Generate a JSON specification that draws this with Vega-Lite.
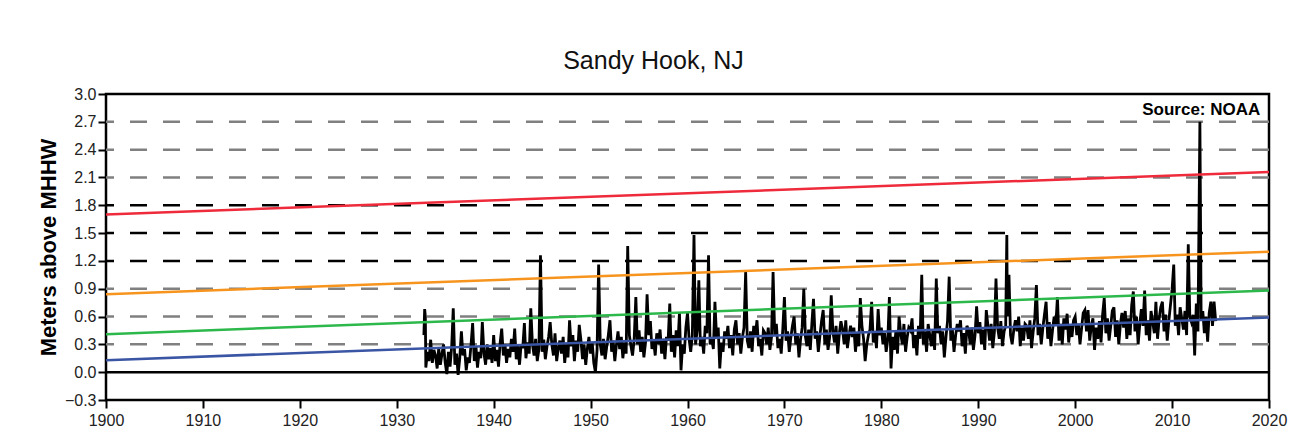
{
"$schema":"https://vega.github.io/schema/vega-lite/v6.json",
"width":1163,"height":306,
"autosize":{"type":"none"},
"padding":{"left":106,"top":94,"right":30,"bottom":39},
"background":"#ffffff",
"title":{"text":"Sandy Hook, NJ","font":"Liberation Sans","fontSize":25,"fontWeight":"normal","color":"#111111","dx":-34,"offset":12},
"config":{"view":{"stroke":"#000000","strokeWidth":2.5},"font":"Liberation Sans",
 "axisX":{"labelFont":"Liberation Sans","labelFontSize":16,"labelColor":"#222222","labelPadding":4,"tickSize":8,"tickWidth":2,"tickColor":"#000000","domain":false,"grid":false,"labelFlush":false,"labelOverlap":false,"labelBound":false},
 "axisY":{"labelFont":"Liberation Sans","labelFontSize":16,"labelColor":"#222222","labelPadding":2,"tickSize":8,"tickWidth":2,"tickColor":"#000000","domain":false,"grid":false,"labelFlush":false,"labelOverlap":false,"labelBound":false,"titleFont":"Liberation Sans","titleFontSize":22,"titleFontWeight":"bold","titleColor":"#000000","titlePadding":4}},
"datasets":{
"grid":[{"y":0.3,"c":"#808080"},{"y":0.6,"c":"#808080"},{"y":0.9,"c":"#808080"},{"y":1.2,"c":"#000000"},{"y":1.5,"c":"#000000"},{"y":1.8,"c":"#000000"},{"y":2.1,"c":"#808080"},{"y":2.4,"c":"#808080"},{"y":2.7,"c":"#808080"}],
"trend":[{"t":1900,"v":1.70,"s":"r"},{"t":2020,"v":2.16,"s":"r"},{"t":1900,"v":0.84,"s":"o"},{"t":2020,"v":1.30,"s":"o"},{"t":1900,"v":0.41,"s":"g"},{"t":2020,"v":0.88,"s":"g"},{"t":1900,"v":0.13,"s":"b"},{"t":2020,"v":0.59,"s":"b"}],
"note":[{"t":2019.1,"v":2.83,"label":"Source: NOAA"}],
"zero":[{"t":1900,"v":0},{"t":2020,"v":0}],
"wl":[
{"t":1932.8,"v":0.4},{"t":1932.88,"v":0.68},{"t":1932.95,"v":0.6},
{"t":1933,"v":0.05},{"t":1933.17,"v":0.22},{"t":1933.33,"v":0.12},{"t":1933.5,"v":0.35},{"t":1933.67,"v":0.10},{"t":1933.83,"v":0.24},
{"t":1934,"v":0.18},{"t":1934.17,"v":0.04},{"t":1934.33,"v":0.26},{"t":1934.5,"v":0.08},{"t":1934.67,"v":0.20},{"t":1934.83,"v":0.30},
{"t":1935,"v":0.10},{"t":1935.17,"v":-0.02},{"t":1935.33,"v":0.22},{"t":1935.5,"v":0.06},{"t":1935.67,"v":0.28},{"t":1935.83,"v":0.69},
{"t":1936,"v":0.08},{"t":1936.17,"v":0.20},{"t":1936.33,"v":-0.03},{"t":1936.5,"v":0.15},{"t":1936.67,"v":0.44},{"t":1936.83,"v":0.18},
{"t":1937,"v":0.25},{"t":1937.17,"v":0.02},{"t":1937.33,"v":0.16},{"t":1937.5,"v":0.10},{"t":1937.67,"v":0.30},{"t":1937.83,"v":0.53},
{"t":1938,"v":0.12},{"t":1938.17,"v":0.28},{"t":1938.33,"v":0.05},{"t":1938.5,"v":0.22},{"t":1938.67,"v":0.15},{"t":1938.83,"v":0.54},
{"t":1939,"v":0.20},{"t":1939.17,"v":0.08},{"t":1939.33,"v":0.30},{"t":1939.5,"v":0.14},{"t":1939.67,"v":0.26},{"t":1939.83,"v":0.10},
{"t":1940,"v":0.40},{"t":1940.17,"v":0.12},{"t":1940.33,"v":0.24},{"t":1940.5,"v":0.06},{"t":1940.67,"v":0.32},{"t":1940.83,"v":0.47},
{"t":1941,"v":0.18},{"t":1941.17,"v":0.30},{"t":1941.33,"v":0.10},{"t":1941.5,"v":0.25},{"t":1941.67,"v":0.16},{"t":1941.83,"v":0.36},
{"t":1942,"v":0.22},{"t":1942.17,"v":0.47},{"t":1942.33,"v":0.14},{"t":1942.5,"v":0.28},{"t":1942.67,"v":0.08},{"t":1942.83,"v":0.30},
{"t":1943,"v":0.26},{"t":1943.17,"v":0.53},{"t":1943.33,"v":0.15},{"t":1943.5,"v":0.32},{"t":1943.67,"v":0.20},{"t":1943.83,"v":0.69},
{"t":1944,"v":0.30},{"t":1944.17,"v":0.18},{"t":1944.33,"v":0.36},{"t":1944.5,"v":0.12},{"t":1944.67,"v":0.25},{"t":1944.83,"v":1.26},
{"t":1945,"v":0.22},{"t":1945.17,"v":0.35},{"t":1945.33,"v":0.14},{"t":1945.5,"v":0.28},{"t":1945.67,"v":0.38},{"t":1945.83,"v":0.54},
{"t":1946,"v":0.30},{"t":1946.17,"v":0.18},{"t":1946.33,"v":0.42},{"t":1946.5,"v":0.12},{"t":1946.67,"v":0.26},{"t":1946.83,"v":0.34},
{"t":1947,"v":0.20},{"t":1947.17,"v":0.38},{"t":1947.33,"v":0.10},{"t":1947.5,"v":0.30},{"t":1947.67,"v":0.16},{"t":1947.83,"v":0.56},
{"t":1948,"v":0.28},{"t":1948.17,"v":0.40},{"t":1948.33,"v":0.12},{"t":1948.5,"v":0.34},{"t":1948.67,"v":0.22},{"t":1948.83,"v":0.51},
{"t":1949,"v":0.35},{"t":1949.17,"v":0.14},{"t":1949.33,"v":0.30},{"t":1949.5,"v":0.08},{"t":1949.67,"v":0.26},{"t":1949.83,"v":0.38},
{"t":1950,"v":0.20},{"t":1950.17,"v":0.32},{"t":1950.33,"v":0.10},{"t":1950.5,"v":0.00},{"t":1950.67,"v":0.24},{"t":1950.83,"v":1.16},
{"t":1951,"v":0.30},{"t":1951.17,"v":0.18},{"t":1951.33,"v":0.36},{"t":1951.5,"v":0.14},{"t":1951.67,"v":0.28},{"t":1951.83,"v":0.40},
{"t":1952,"v":0.56},{"t":1952.17,"v":0.22},{"t":1952.33,"v":0.34},{"t":1952.5,"v":0.12},{"t":1952.67,"v":0.30},{"t":1952.83,"v":0.44},
{"t":1953,"v":0.25},{"t":1953.17,"v":0.38},{"t":1953.33,"v":0.15},{"t":1953.5,"v":0.32},{"t":1953.67,"v":0.20},{"t":1953.83,"v":1.36},
{"t":1954,"v":0.40},{"t":1954.17,"v":0.28},{"t":1954.33,"v":0.18},{"t":1954.5,"v":0.36},{"t":1954.67,"v":0.81},{"t":1954.83,"v":0.30},
{"t":1955,"v":0.45},{"t":1955.17,"v":0.22},{"t":1955.33,"v":0.38},{"t":1955.5,"v":0.16},{"t":1955.67,"v":0.32},{"t":1955.83,"v":0.84},
{"t":1956,"v":0.40},{"t":1956.17,"v":0.55},{"t":1956.33,"v":0.25},{"t":1956.5,"v":0.34},{"t":1956.67,"v":0.18},{"t":1956.83,"v":0.42},
{"t":1957,"v":0.30},{"t":1957.17,"v":0.46},{"t":1957.33,"v":0.20},{"t":1957.5,"v":0.36},{"t":1957.67,"v":0.14},{"t":1957.83,"v":0.38},
{"t":1958,"v":0.34},{"t":1958.17,"v":0.74},{"t":1958.33,"v":0.22},{"t":1958.5,"v":0.40},{"t":1958.67,"v":0.16},{"t":1958.83,"v":0.45},
{"t":1959,"v":0.28},{"t":1959.17,"v":0.64},{"t":1959.33,"v":0.02},{"t":1959.5,"v":0.30},{"t":1959.67,"v":0.20},{"t":1959.83,"v":0.48},
{"t":1960,"v":0.64},{"t":1960.17,"v":0.35},{"t":1960.33,"v":0.22},{"t":1960.5,"v":0.40},{"t":1960.67,"v":1.48},{"t":1960.83,"v":0.30},
{"t":1961,"v":0.45},{"t":1961.17,"v":0.99},{"t":1961.33,"v":0.28},{"t":1961.5,"v":0.38},{"t":1961.67,"v":0.20},{"t":1961.83,"v":0.50},
{"t":1962,"v":0.42},{"t":1962.17,"v":1.26},{"t":1962.33,"v":0.30},{"t":1962.5,"v":0.36},{"t":1962.67,"v":0.25},{"t":1962.83,"v":0.76},
{"t":1963,"v":0.38},{"t":1963.17,"v":0.48},{"t":1963.33,"v":0.04},{"t":1963.5,"v":0.32},{"t":1963.67,"v":0.22},{"t":1963.83,"v":0.44},
{"t":1964,"v":0.36},{"t":1964.17,"v":0.50},{"t":1964.33,"v":0.26},{"t":1964.5,"v":0.40},{"t":1964.67,"v":0.18},{"t":1964.83,"v":0.46},
{"t":1965,"v":0.56},{"t":1965.17,"v":0.30},{"t":1965.33,"v":0.42},{"t":1965.5,"v":0.20},{"t":1965.67,"v":0.38},{"t":1965.83,"v":0.48},
{"t":1966,"v":1.08},{"t":1966.17,"v":0.34},{"t":1966.33,"v":0.26},{"t":1966.5,"v":0.44},{"t":1966.67,"v":0.22},{"t":1966.83,"v":0.50},
{"t":1967,"v":0.40},{"t":1967.17,"v":0.56},{"t":1967.33,"v":0.28},{"t":1967.5,"v":0.36},{"t":1967.67,"v":0.18},{"t":1967.83,"v":0.45},
{"t":1968,"v":0.42},{"t":1968.17,"v":0.30},{"t":1968.33,"v":0.48},{"t":1968.5,"v":0.24},{"t":1968.67,"v":0.38},{"t":1968.83,"v":1.08},
{"t":1969,"v":0.40},{"t":1969.17,"v":0.52},{"t":1969.33,"v":0.26},{"t":1969.5,"v":0.36},{"t":1969.67,"v":0.20},{"t":1969.83,"v":0.46},
{"t":1970,"v":0.81},{"t":1970.17,"v":0.34},{"t":1970.33,"v":0.44},{"t":1970.5,"v":0.22},{"t":1970.67,"v":0.38},{"t":1970.83,"v":0.50},
{"t":1971,"v":0.60},{"t":1971.17,"v":0.30},{"t":1971.33,"v":0.42},{"t":1971.5,"v":0.16},{"t":1971.67,"v":0.36},{"t":1971.83,"v":0.48},
{"t":1972,"v":0.90},{"t":1972.17,"v":0.38},{"t":1972.33,"v":0.28},{"t":1972.5,"v":0.46},{"t":1972.67,"v":0.24},{"t":1972.83,"v":0.52},
{"t":1973,"v":0.79},{"t":1973.17,"v":0.36},{"t":1973.33,"v":0.44},{"t":1973.5,"v":0.22},{"t":1973.67,"v":0.40},{"t":1973.83,"v":0.55},
{"t":1974,"v":0.67},{"t":1974.17,"v":0.30},{"t":1974.33,"v":0.46},{"t":1974.5,"v":0.24},{"t":1974.67,"v":0.38},{"t":1974.83,"v":0.83},
{"t":1975,"v":0.44},{"t":1975.17,"v":0.32},{"t":1975.33,"v":0.50},{"t":1975.5,"v":0.20},{"t":1975.67,"v":0.42},{"t":1975.83,"v":0.55},
{"t":1976,"v":0.46},{"t":1976.17,"v":0.30},{"t":1976.33,"v":0.56},{"t":1976.5,"v":0.26},{"t":1976.67,"v":0.40},{"t":1976.83,"v":0.50},
{"t":1977,"v":0.38},{"t":1977.17,"v":0.48},{"t":1977.33,"v":0.22},{"t":1977.5,"v":0.42},{"t":1977.67,"v":0.28},{"t":1977.83,"v":0.80},
{"t":1978,"v":0.50},{"t":1978.17,"v":0.36},{"t":1978.33,"v":0.12},{"t":1978.5,"v":0.30},{"t":1978.67,"v":0.40},{"t":1978.83,"v":0.46},
{"t":1979,"v":0.76},{"t":1979.17,"v":0.32},{"t":1979.33,"v":0.44},{"t":1979.5,"v":0.26},{"t":1979.67,"v":0.68},{"t":1979.83,"v":0.40},
{"t":1980,"v":0.48},{"t":1980.17,"v":0.30},{"t":1980.33,"v":0.42},{"t":1980.5,"v":0.22},{"t":1980.67,"v":0.36},{"t":1980.83,"v":0.81},
{"t":1981,"v":0.04},{"t":1981.17,"v":0.38},{"t":1981.33,"v":0.24},{"t":1981.5,"v":0.44},{"t":1981.67,"v":0.20},{"t":1981.83,"v":0.60},
{"t":1982,"v":0.42},{"t":1982.17,"v":0.30},{"t":1982.33,"v":0.52},{"t":1982.5,"v":0.22},{"t":1982.67,"v":0.38},{"t":1982.83,"v":0.48},
{"t":1983,"v":0.45},{"t":1983.17,"v":0.58},{"t":1983.33,"v":0.26},{"t":1983.5,"v":0.40},{"t":1983.67,"v":0.18},{"t":1983.83,"v":0.50},
{"t":1984,"v":0.36},{"t":1984.17,"v":1.05},{"t":1984.33,"v":0.30},{"t":1984.5,"v":0.44},{"t":1984.67,"v":0.22},{"t":1984.83,"v":0.52},
{"t":1985,"v":0.40},{"t":1985.17,"v":0.28},{"t":1985.33,"v":0.46},{"t":1985.5,"v":0.24},{"t":1985.67,"v":1.01},{"t":1985.83,"v":0.42},
{"t":1986,"v":0.50},{"t":1986.17,"v":0.30},{"t":1986.33,"v":0.44},{"t":1986.5,"v":0.16},{"t":1986.67,"v":0.38},{"t":1986.83,"v":0.55},
{"t":1987,"v":1.03},{"t":1987.17,"v":0.34},{"t":1987.33,"v":0.46},{"t":1987.5,"v":0.22},{"t":1987.67,"v":0.40},{"t":1987.83,"v":0.52},
{"t":1988,"v":0.44},{"t":1988.17,"v":0.56},{"t":1988.33,"v":0.28},{"t":1988.5,"v":0.42},{"t":1988.67,"v":0.20},{"t":1988.83,"v":0.50},
{"t":1989,"v":0.46},{"t":1989.17,"v":0.30},{"t":1989.33,"v":0.48},{"t":1989.5,"v":0.24},{"t":1989.67,"v":0.40},{"t":1989.83,"v":0.71},
{"t":1990,"v":0.42},{"t":1990.17,"v":0.54},{"t":1990.33,"v":0.30},{"t":1990.5,"v":0.46},{"t":1990.67,"v":0.24},{"t":1990.83,"v":0.67},
{"t":1991,"v":0.50},{"t":1991.17,"v":0.34},{"t":1991.33,"v":0.52},{"t":1991.5,"v":0.26},{"t":1991.67,"v":0.44},{"t":1991.83,"v":1.01},
{"t":1992,"v":0.48},{"t":1992.17,"v":0.36},{"t":1992.33,"v":0.55},{"t":1992.5,"v":0.28},{"t":1992.67,"v":0.44},{"t":1992.83,"v":0.50},{"t":1992.95,"v":1.48},
{"t":1993,"v":0.60},{"t":1993.17,"v":1.05},{"t":1993.33,"v":0.40},{"t":1993.5,"v":0.30},{"t":1993.67,"v":0.46},{"t":1993.83,"v":0.56},
{"t":1994,"v":0.44},{"t":1994.17,"v":0.60},{"t":1994.33,"v":0.28},{"t":1994.5,"v":0.48},{"t":1994.67,"v":0.34},{"t":1994.83,"v":0.52},
{"t":1995,"v":0.50},{"t":1995.17,"v":0.36},{"t":1995.33,"v":0.56},{"t":1995.5,"v":0.26},{"t":1995.67,"v":0.44},{"t":1995.83,"v":0.58},
{"t":1996,"v":0.94},{"t":1996.17,"v":0.40},{"t":1996.33,"v":0.52},{"t":1996.5,"v":0.30},{"t":1996.67,"v":0.48},{"t":1996.83,"v":0.62},
{"t":1997,"v":0.76},{"t":1997.17,"v":0.36},{"t":1997.33,"v":0.54},{"t":1997.5,"v":0.28},{"t":1997.67,"v":0.46},{"t":1997.83,"v":0.60},
{"t":1998,"v":0.50},{"t":1998.17,"v":0.81},{"t":1998.33,"v":0.34},{"t":1998.5,"v":0.52},{"t":1998.67,"v":0.30},{"t":1998.83,"v":0.58},
{"t":1999,"v":0.46},{"t":1999.17,"v":0.63},{"t":1999.33,"v":0.32},{"t":1999.5,"v":0.50},{"t":1999.67,"v":0.38},{"t":1999.83,"v":0.56},
{"t":2000,"v":0.60},{"t":2000.17,"v":0.40},{"t":2000.33,"v":0.52},{"t":2000.5,"v":0.30},{"t":2000.67,"v":0.48},{"t":2000.83,"v":0.64},
{"t":2001,"v":0.67},{"t":2001.17,"v":0.44},{"t":2001.33,"v":0.67},{"t":2001.5,"v":0.34},{"t":2001.67,"v":0.50},{"t":2001.83,"v":0.58},
{"t":2002,"v":0.24},{"t":2002.17,"v":0.48},{"t":2002.33,"v":0.36},{"t":2002.5,"v":0.55},{"t":2002.67,"v":0.32},{"t":2002.83,"v":0.62},
{"t":2003,"v":0.80},{"t":2003.17,"v":0.42},{"t":2003.33,"v":0.58},{"t":2003.5,"v":0.34},{"t":2003.67,"v":0.50},{"t":2003.83,"v":0.66},
{"t":2004,"v":0.70},{"t":2004.17,"v":0.38},{"t":2004.33,"v":0.56},{"t":2004.5,"v":0.30},{"t":2004.67,"v":0.52},{"t":2004.83,"v":0.64},
{"t":2005,"v":0.48},{"t":2005.17,"v":0.66},{"t":2005.33,"v":0.36},{"t":2005.5,"v":0.58},{"t":2005.67,"v":0.40},{"t":2005.83,"v":0.72},
{"t":2006,"v":0.87},{"t":2006.17,"v":0.44},{"t":2006.33,"v":0.60},{"t":2006.5,"v":0.30},{"t":2006.67,"v":0.52},{"t":2006.83,"v":0.68},
{"t":2007,"v":0.50},{"t":2007.17,"v":0.88},{"t":2007.33,"v":0.40},{"t":2007.5,"v":0.56},{"t":2007.67,"v":0.34},{"t":2007.83,"v":0.66},
{"t":2008,"v":0.54},{"t":2008.17,"v":0.42},{"t":2008.33,"v":0.76},{"t":2008.5,"v":0.36},{"t":2008.67,"v":0.58},{"t":2008.83,"v":0.70},
{"t":2009,"v":0.76},{"t":2009.17,"v":0.44},{"t":2009.33,"v":0.62},{"t":2009.5,"v":0.34},{"t":2009.67,"v":0.56},{"t":2009.83,"v":0.72},
{"t":2010,"v":0.89},{"t":2010.17,"v":1.16},{"t":2010.33,"v":0.50},{"t":2010.5,"v":0.62},{"t":2010.67,"v":0.40},{"t":2010.83,"v":0.70},
{"t":2011,"v":0.58},{"t":2011.17,"v":0.46},{"t":2011.33,"v":0.66},{"t":2011.5,"v":0.40},{"t":2011.67,"v":1.38},{"t":2011.83,"v":0.60},
{"t":2012,"v":0.54},{"t":2012.17,"v":0.62},{"t":2012.33,"v":0.18},{"t":2012.5,"v":0.74},{"t":2012.67,"v":0.44},{"t":2012.87,"v":2.70},
{"t":2013,"v":0.56},{"t":2013.17,"v":0.66},{"t":2013.33,"v":0.42},{"t":2013.5,"v":0.60},{"t":2013.67,"v":0.33},{"t":2013.83,"v":0.64},
{"t":2014,"v":0.76},{"t":2014.17,"v":0.50},{"t":2014.33,"v":0.76},{"t":2014.5,"v":0.55}
]
},
"layer":[
{"data":{"name":"grid"},"mark":{"type":"rule","strokeDash":[17,16],"strokeWidth":2.5},
 "encoding":{"y":{"field":"y","type":"quantitative","scale":{"domain":[-0.3,3.0],"nice":false,"zero":false},
   "axis":{"title":"Meters above MHHW","values":[-0.3,0,0.3,0.6,0.9,1.2,1.5,1.8,2.1,2.4,2.7,3.0],"format":".1f","labelFontSize":16}},
  "color":{"field":"c","type":"nominal","scale":null}}},
{"data":{"name":"zero"},"mark":{"type":"line","color":"#000000","strokeWidth":2.5},
 "encoding":{"x":{"field":"t","type":"quantitative","scale":{"domain":[1900,2020],"nice":false,"zero":false},
   "axis":{"title":null,"values":[1900,1910,1920,1930,1940,1950,1960,1970,1980,1990,2000,2010,2020],"format":"d","labelFontSize":16}},
  "y":{"field":"v","type":"quantitative","axis":{"title":"Meters above MHHW","values":[-0.3,0,0.3,0.6,0.9,1.2,1.5,1.8,2.1,2.4,2.7,3.0],"format":".1f","labelFontSize":16}}}},
{"data":{"name":"wl"},"mark":{"type":"line","color":"#000000","strokeWidth":2.8,"strokeJoin":"miter"},
 "encoding":{"x":{"field":"t","type":"quantitative","axis":{"title":null,"values":[1900,1910,1920,1930,1940,1950,1960,1970,1980,1990,2000,2010,2020],"format":"d","labelFontSize":16}},
  "y":{"field":"v","type":"quantitative","axis":{"title":"Meters above MHHW","values":[-0.3,0,0.3,0.6,0.9,1.2,1.5,1.8,2.1,2.4,2.7,3.0],"format":".1f","labelFontSize":16}}}},
{"data":{"name":"trend"},"mark":{"type":"line","strokeWidth":2.5},
 "encoding":{"x":{"field":"t","type":"quantitative","axis":{"title":null,"values":[1900,1910,1920,1930,1940,1950,1960,1970,1980,1990,2000,2010,2020],"format":"d","labelFontSize":16}},
  "y":{"field":"v","type":"quantitative","axis":{"title":"Meters above MHHW","values":[-0.3,0,0.3,0.6,0.9,1.2,1.5,1.8,2.1,2.4,2.7,3.0],"format":".1f","labelFontSize":16}},
  "color":{"field":"s","type":"nominal","scale":{"domain":["r","o","g","b"],"range":["#ee2a3b","#f7941e","#2db84b","#3a55a4"]},"legend":null}}},
{"data":{"name":"note"},"mark":{"type":"text","align":"right","baseline":"middle","font":"Liberation Sans","fontSize":17,"fontWeight":"bold","color":"#000000"},
 "encoding":{"x":{"field":"t","type":"quantitative","axis":{"title":null,"values":[1900,1910,1920,1930,1940,1950,1960,1970,1980,1990,2000,2010,2020],"format":"d","labelFontSize":16}},
  "y":{"field":"v","type":"quantitative","axis":{"title":"Meters above MHHW","values":[-0.3,0,0.3,0.6,0.9,1.2,1.5,1.8,2.1,2.4,2.7,3.0],"format":".1f","labelFontSize":16}},"text":{"field":"label"}}}
]
}
